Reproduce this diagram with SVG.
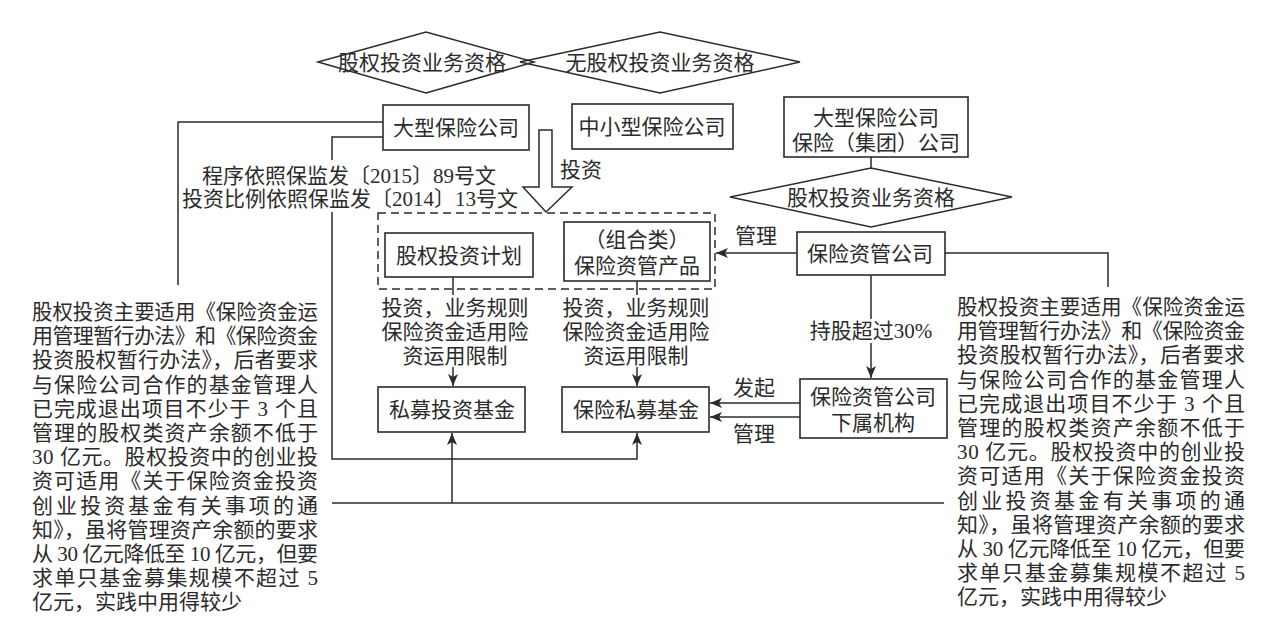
<svg xmlns="http://www.w3.org/2000/svg" width="1280" height="642" viewBox="0 0 1280 642">
<style>
text{font-family:"Liberation Serif","Noto Sans CJK SC",serif;font-size:21px;fill:#2b2b2b}
.c{text-anchor:middle}
.box{fill:#fff;stroke:#2b2b2b;stroke-width:1.6}
.dia{fill:none;stroke:#2b2b2b;stroke-width:1.5}
.ln{fill:none;stroke:#2b2b2b;stroke-width:1.5}
.arr{fill:none;stroke:#2b2b2b;stroke-width:1.5;marker-end:url(#ah)}
</style>
<defs>
<marker id="ah" viewBox="0 0 12 10" refX="12" refY="5" markerWidth="12" markerHeight="10" markerUnits="userSpaceOnUse" orient="auto">
<path d="M0,0 L12,5 L0,10 L3,5 Z" fill="#2b2b2b"/>
</marker>
</defs>
<rect width="1280" height="642" fill="#fff"/>

<g id="connectors">
<path class="ln" d="M383,122 H178 V285"/>
<path class="ln" d="M383,137 H332 V160"/>
<path class="arr" d="M332,212 V459 H637 V433"/>
<path class="ln" d="M871,157 V168"/>
<path class="ln" d="M453,277 V295"/>
<path class="arr" d="M453,367 V386"/>
<path class="ln" d="M637,281 V295"/>
<path class="arr" d="M637,367 V386"/>
<path class="arr" d="M797,253 H716"/>
<path class="ln" d="M945,253 H1108 V287"/>
<path class="ln" d="M871,275 V319"/>
<path class="arr" d="M871,343 V378"/>
<path class="arr" d="M800,403 H710"/>
<path class="arr" d="M800,417 H710"/>
<path class="ln" d="M332,503 H944"/>
<path class="arr" d="M452,503 V433"/>
<polygon points="539,130 552,130 552,187 572,187 546,212 523,187 539,187" fill="#fff" stroke="#2b2b2b" stroke-width="1.5"/>
<text x="560" y="177">投资</text>
<text class="c" x="349" y="183">程序依照保监发〔2015〕89号文</text>
<text class="c" x="350" y="206">投资比例依照保监发〔2014〕13号文</text>
<text class="c" x="756" y="243">管理</text>
<text class="c" x="871" y="338">持股超过30%</text>
<text class="c" x="754" y="395">发起</text>
<text class="c" x="754" y="441">管理</text>
</g>

<g id="d-qual">
<polygon class="dia" points="318,62 426,32 534,62 426,93"/>
<text class="c" x="422" y="70">股权投资业务资格</text>
</g>
<g id="d-noqual">
<polygon class="dia" points="520,62 660,32 800,62 660,93"/>
<text class="c" x="660" y="70">无股权投资业务资格</text>
</g>

<g id="n-large">
<rect class="box" x="383" y="105" width="146" height="45"/>
<text class="c" x="456" y="135">大型保险公司</text>
</g>
<g id="n-small">
<rect class="box" x="572" y="104" width="161" height="45"/>
<text class="c" x="652" y="134">中小型保险公司</text>
</g>
<g id="n-group">
<rect class="box" x="784" y="97" width="184" height="60"/>
<text class="c" x="876" y="125">大型保险公司</text>
<text class="c" x="876" y="150">保险（集团）公司</text>
</g>
<g id="d-qual2">
<polygon class="dia" points="730,197 871,168 1012,197 871,227"/>
<text class="c" x="871" y="205">股权投资业务资格</text>
</g>

<g id="n-dashed">
<rect x="378" y="213" width="337" height="76" fill="none" stroke="#2b2b2b" stroke-width="1.5" stroke-dasharray="8 5"/>
</g>
<g id="n-plan">
<rect class="box" x="385" y="233" width="148" height="44"/>
<text class="c" x="459" y="263">股权投资计划</text>
</g>
<g id="n-product">
<rect class="box" x="564" y="222" width="146" height="59"/>
<text class="c" x="637" y="247">（组合类）</text>
<text class="c" x="637" y="273">保险资管产品</text>
</g>
<g id="t-rule1">
<text class="c" x="455" y="315">投资，业务规则</text>
<text class="c" x="455" y="339">保险资金适用险</text>
<text class="c" x="455" y="363">资运用限制</text>
</g>
<g id="t-rule2">
<text class="c" x="636" y="315">投资，业务规则</text>
<text class="c" x="636" y="339">保险资金适用险</text>
<text class="c" x="636" y="363">资运用限制</text>
</g>
<g id="n-amc">
<rect class="box" x="797" y="232" width="148" height="43"/>
<text class="c" x="870" y="261">保险资管公司</text>
</g>
<g id="n-sub">
<rect class="box" x="800" y="379" width="147" height="59"/>
<text class="c" x="873" y="404">保险资管公司</text>
<text class="c" x="873" y="430">下属机构</text>
</g>
<g id="n-pe">
<rect class="box" x="378" y="387" width="147" height="45"/>
<text class="c" x="452" y="417">私募投资基金</text>
</g>
<g id="n-ipe">
<rect class="box" x="562" y="387" width="147" height="45"/>
<text class="c" x="636" y="417">保险私募基金</text>
</g>

<g id="t-left">
<text x="32" y="319" textLength="286" lengthAdjust="spacingAndGlyphs">股权投资主要适用《保险资金运</text>
<text x="32" y="343" textLength="286" lengthAdjust="spacing">用管理暂行办法》和《保险资金</text>
<text x="32" y="367" textLength="286" lengthAdjust="spacing">投资股权暂行办法》，后者要求</text>
<text x="32" y="392" textLength="286" lengthAdjust="spacing">与保险公司合作的基金管理人</text>
<text x="32" y="416" textLength="286" lengthAdjust="spacing">已完成退出项目不少于 3 个且</text>
<text x="32" y="440" textLength="286" lengthAdjust="spacing">管理的股权类资产余额不低于</text>
<text x="32" y="464" textLength="286" lengthAdjust="spacing">30 亿元。股权投资中的创业投</text>
<text x="32" y="488" textLength="286" lengthAdjust="spacing">资可适用《关于保险资金投资</text>
<text x="32" y="513" textLength="286" lengthAdjust="spacing">创业投资基金有关事项的通</text>
<text x="32" y="537" textLength="286" lengthAdjust="spacing">知》，虽将管理资产余额的要求</text>
<text x="32" y="561" textLength="286" lengthAdjust="spacing">从 30 亿元降低至 10 亿元，但要</text>
<text x="32" y="585" textLength="286" lengthAdjust="spacing">求单只基金募集规模不超过 5</text>
<text x="32" y="609">亿元，实践中用得较少</text>
</g>
<g id="t-right">
<text x="957" y="314" textLength="288" lengthAdjust="spacingAndGlyphs">股权投资主要适用《保险资金运</text>
<text x="957" y="338" textLength="288" lengthAdjust="spacing">用管理暂行办法》和《保险资金</text>
<text x="957" y="362" textLength="288" lengthAdjust="spacing">投资股权暂行办法》，后者要求</text>
<text x="957" y="387" textLength="288" lengthAdjust="spacing">与保险公司合作的基金管理人</text>
<text x="957" y="411" textLength="288" lengthAdjust="spacing">已完成退出项目不少于 3 个且</text>
<text x="957" y="435" textLength="288" lengthAdjust="spacing">管理的股权类资产余额不低于</text>
<text x="957" y="459" textLength="288" lengthAdjust="spacing">30 亿元。股权投资中的创业投</text>
<text x="957" y="483" textLength="288" lengthAdjust="spacing">资可适用《关于保险资金投资</text>
<text x="957" y="508" textLength="288" lengthAdjust="spacing">创业投资基金有关事项的通</text>
<text x="957" y="532" textLength="288" lengthAdjust="spacing">知》，虽将管理资产余额的要求</text>
<text x="957" y="556" textLength="288" lengthAdjust="spacing">从 30 亿元降低至 10 亿元，但要</text>
<text x="957" y="580" textLength="288" lengthAdjust="spacing">求单只基金募集规模不超过 5</text>
<text x="957" y="604">亿元，实践中用得较少</text>
</g>
</svg>
